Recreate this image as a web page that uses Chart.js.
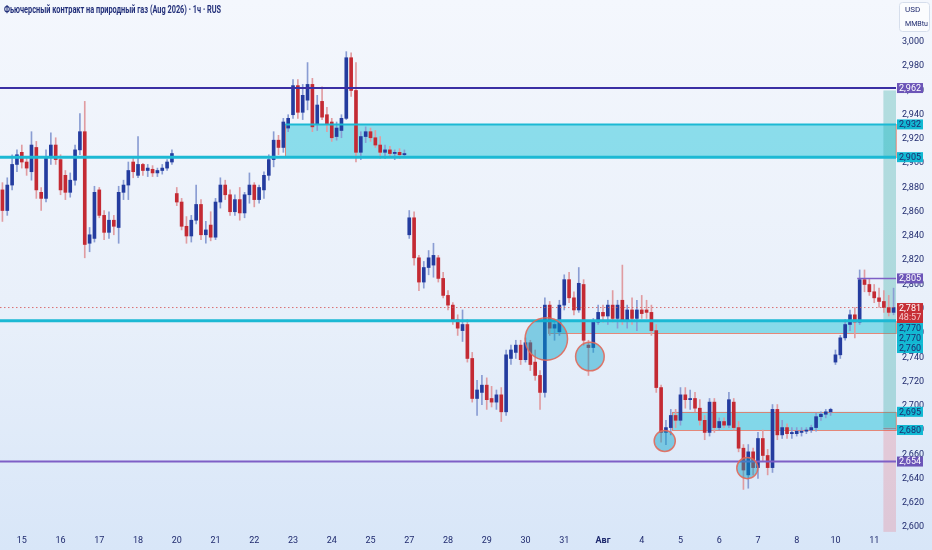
<!DOCTYPE html>
<html>
<head>
<meta charset="utf-8">
<script src="https://cdn.jsdelivr.net/npm/chart.js@4.4.1/dist/chart.umd.min.js"></script>
<style>
  html, body { margin: 0; padding: 0; }
  body {
    width: 932px; height: 550px; overflow: hidden;
    background: linear-gradient(#f4f7fd 0%, #e9f0fa 55%, #d8e6f8 100%);
  }
  canvas { display: block; }
</style>
</head>
<body>
<canvas id="gasChart" width="932" height="550"></canvas>
<script>
// 3-hour candles, Jul 15 -> Aug 11
const opens = [
  2878, 2861, 2882, 2899, 2909, 2901, 2893, 2913, 2876, 2871,
  2905, 2915, 2903, 2890, 2876, 2886, 2911, 2926, 2834, 2838,
  2878, 2857, 2843, 2853, 2847, 2876, 2882, 2901, 2890, 2899,
  2894, 2895, 2892, 2894, 2896, 2901, 2875, 2868, 2848, 2840,
  2853, 2866, 2841, 2849, 2839, 2868, 2882, 2874, 2860, 2870,
  2859, 2874, 2882, 2870, 2878, 2890, 2903, 2919, 2913, 2929,
  2940, 2964, 2942, 2952, 2965, 2932, 2951, 2940, 2934, 2922,
  2927, 2937, 2987, 2960, 2909, 2922, 2926, 2921, 2915, 2909,
  2911, 2908, 2909, 2907, 2841, 2855, 2822, 2802, 2814, 2816,
  2822, 2805, 2791, 2783, 2771, 2762, 2767, 2739, 2706, 2711,
  2717, 2706, 2703, 2709, 2695, 2739, 2744, 2750, 2738, 2752,
  2736, 2725, 2711, 2783, 2764, 2761, 2783, 2804, 2789, 2779,
  2800, 2750, 2748, 2769, 2777, 2774, 2783, 2772, 2787, 2771,
  2779, 2772, 2779, 2779, 2777, 2762, 2715, 2678, 2682, 2692,
  2688, 2709, 2705, 2706, 2698, 2688, 2678, 2703, 2682, 2687,
  2684, 2703, 2682, 2665, 2643, 2662, 2649, 2673, 2659, 2649,
  2697, 2676, 2682, 2677, 2677, 2678, 2679, 2680, 2682, 2691,
  2693, 2695, 2736, 2742, 2756, 2767, 2775, 2769, 2804, 2800,
  2794, 2789, 2786, 2781, 2777
];
const highs = [
  2884, 2888, 2907, 2911, 2915, 2904, 2926, 2918, 2880, 2911,
  2925, 2921, 2907, 2894, 2892, 2915, 2941, 2951, 2847, 2881,
  2880, 2861, 2860, 2857, 2881, 2886, 2901, 2904, 2922, 2900,
  2899, 2898, 2896, 2899, 2903, 2911, 2880, 2871, 2856, 2857,
  2882, 2870, 2852, 2860, 2871, 2888, 2886, 2878, 2874, 2880,
  2876, 2892, 2884, 2882, 2893, 2907, 2926, 2923, 2937, 2940,
  2969, 2969, 2965, 2983, 2970, 2956, 2963, 2946, 2937, 2934,
  2940, 2992, 2991, 2983, 2926, 2930, 2929, 2927, 2922, 2915,
  2914, 2911, 2912, 2911, 2861, 2860, 2824, 2819, 2828, 2834,
  2824, 2810, 2795, 2785, 2775, 2779, 2771, 2744, 2721, 2725,
  2723, 2716, 2713, 2715, 2746, 2750, 2754, 2754, 2756, 2754,
  2746, 2729, 2789, 2786, 2771, 2787, 2808, 2810, 2794, 2814,
  2804, 2754, 2772, 2783, 2783, 2787, 2795, 2787, 2816, 2783,
  2789, 2787, 2791, 2787, 2783, 2767, 2717, 2688, 2697, 2697,
  2715, 2715, 2713, 2711, 2705, 2692, 2706, 2706, 2690, 2690,
  2711, 2706, 2687, 2668, 2668, 2665, 2678, 2680, 2664, 2701,
  2701, 2688, 2685, 2682, 2682, 2682, 2682, 2684, 2694, 2695,
  2697, 2698, 2746, 2758, 2771, 2779, 2781, 2812, 2812, 2805,
  2800, 2797, 2795, 2791, 2797
];
const lows = [
  2852, 2857, 2878, 2893, 2896, 2890, 2886, 2871, 2861, 2868,
  2899, 2899, 2874, 2870, 2872, 2882, 2907, 2822, 2827, 2835,
  2855, 2837, 2838, 2841, 2834, 2870, 2870, 2888, 2888, 2890,
  2889, 2889, 2889, 2891, 2894, 2899, 2865, 2845, 2834, 2835,
  2850, 2837, 2834, 2836, 2837, 2863, 2870, 2857, 2857, 2853,
  2855, 2867, 2864, 2867, 2871, 2886, 2897, 2907, 2909, 2926,
  2937, 2937, 2936, 2944, 2926, 2927, 2936, 2926, 2918, 2919,
  2921, 2936, 2955, 2901, 2903, 2917, 2918, 2913, 2904, 2904,
  2905, 2903, 2904, 2905, 2838, 2816, 2795, 2797, 2808, 2806,
  2802, 2789, 2779, 2767, 2758, 2753, 2736, 2703, 2692, 2701,
  2697, 2699, 2697, 2687, 2692, 2734, 2739, 2734, 2736, 2729,
  2721, 2697, 2707, 2758, 2754, 2758, 2779, 2785, 2775, 2777,
  2750, 2725, 2744, 2767, 2769, 2767, 2769, 2764, 2767, 2764,
  2767, 2762, 2772, 2772, 2758, 2711, 2670, 2668, 2676, 2682,
  2684, 2698, 2697, 2695, 2684, 2672, 2675, 2678, 2680, 2682,
  2682, 2680, 2662, 2631, 2632, 2643, 2640, 2654, 2643, 2645,
  2672, 2673, 2673, 2673, 2675, 2675, 2677, 2678, 2679, 2688,
  2690, 2692, 2734, 2739, 2754, 2762, 2756, 2767, 2794, 2791,
  2785, 2781, 2777, 2774, 2775
];
const closes = [
  2861, 2882, 2899, 2907, 2901, 2896, 2915, 2878, 2871, 2905,
  2915, 2903, 2878, 2876, 2886, 2911, 2926, 2833, 2841, 2876,
  2857, 2843, 2853, 2848, 2876, 2882, 2894, 2893, 2899, 2894,
  2896, 2892, 2894, 2896, 2901, 2908, 2868, 2848, 2840, 2853,
  2866, 2841, 2845, 2839, 2868, 2882, 2874, 2860, 2870, 2859,
  2874, 2882, 2870, 2880, 2890, 2903, 2919, 2913, 2934, 2937,
  2964, 2942, 2956, 2965, 2930, 2948, 2938, 2932, 2921, 2929,
  2937, 2987, 2960, 2909, 2922, 2926, 2921, 2915, 2909, 2911,
  2908, 2909, 2907, 2908, 2855, 2822, 2802, 2814, 2822, 2824,
  2805, 2791, 2783, 2771, 2764, 2767, 2739, 2706, 2713, 2717,
  2705, 2703, 2709, 2695, 2742, 2746, 2750, 2738, 2752, 2734,
  2725, 2711, 2783, 2764, 2767, 2783, 2804, 2789, 2779, 2801,
  2754, 2748, 2769, 2777, 2774, 2783, 2772, 2783, 2771, 2779,
  2772, 2779, 2776, 2777, 2762, 2715, 2678, 2682, 2692, 2688,
  2709, 2705, 2706, 2698, 2688, 2678, 2703, 2682, 2687, 2684,
  2705, 2682, 2665, 2647, 2662, 2649, 2673, 2659, 2649, 2697,
  2676, 2682, 2677, 2678, 2679, 2679, 2680, 2682, 2691, 2693,
  2695, 2697, 2742, 2756, 2767, 2775, 2769, 2804, 2800, 2794,
  2789, 2786, 2781, 2777, 2781
];

// day labels on the time axis and the candle where each day starts
const dayLabels = ['15', '16', '17', '18', '20', '21', '22', '23', '24', '25', '27', '28',
  '29', '30', '31', 'Авг', '4', '5', '6', '7', '8', '10', '11'];
const dayStarts = [4, 12, 20, 28, 36, 44, 52, 60, 68, 76, 84, 92,
  100, 108, 116, 124, 132, 140, 148, 156, 164, 172, 180];

const priceTicks = [2600, 2620, 2640, 2660, 2680, 2700, 2720, 2740, 2760, 2780, 2800,
  2820, 2840, 2860, 2880, 2900, 2920, 2940, 2960, 2980, 3000];

// drawn levels
const fullLines = [2962, 2905, 2770, 2654];
const shortLine = { price: 2805, from: 176.5 };
const zoneTop = [2932, 2770, 2695];
const zoneBottom = [2905, 2760, 2680];
const zoneFrom = [58.4, 112.7, 138.3];
const circleAt = [112.3, 121.3, 136.75, 153.8];
const circlePrice = [2755, 2740.6, 2671, 2648.6];
const circleRadius = [17.5, 11.8, 8.7, 8.7]; // in price units
const position = { from: 181.9, target: 2960, entry: 2682, stop: 2596 };
const lastPrice = 2781;
const countdown = '48:57';

// axis-side price badges
const badgePrices = [2962, 2932, 2905, 2805, 2781, 2770, 2770, 2760, 2695, 2680, 2654];
const badgeTypes = ['line', 'zone', 'zone', 'line', 'last', 'zone', 'zone', 'zone', 'zone', 'zone', 'line'];

const title = 'Фьючерсный контракт на природный газ (Aug 2026) · 1ч · RUS';

const slots = opens.map((_, i) => String(i));
const bodies = opens.map((o, i) => [o, closes[i]]);
const wicks = lows.map((l, i) => [l, highs[i]]);
const bodyColors = opens.map((o, i) => closes[i] >= o ? '#243c9f' : '#c42a33');
const wickColors = opens.map((o, i) => closes[i] >= o ? '#8a9dd3' : '#e09ca1');

const dayAt = {};
dayStarts.forEach((s, i) => { dayAt[s] = dayLabels[i]; });

const fmt = v => v.toLocaleString('en-US');
const NAVY = '#1f2a6e';

Chart.defaults.font.family = 'Roboto, "Noto Sans", sans-serif';

const overlays = {
  id: 'overlays',
  beforeDatasetsDraw(chart) {
    const { ctx, chartArea: a, scales: { x, y } } = chart;
    ctx.save();
    // zones
    zoneTop.forEach((top, i) => {
      const x0 = x.getPixelForValue(zoneFrom[i]);
      const y0 = y.getPixelForValue(top);
      const y1 = y.getPixelForValue(zoneBottom[i]);
      ctx.fillStyle = 'rgba(0, 188, 212, 0.42)';
      ctx.fillRect(x0, y0, a.right - x0, y1 - y0);
      ctx.strokeStyle = 'rgba(228, 118, 98, 0.85)';
      ctx.lineWidth = 1;
      ctx.strokeRect(Math.round(x0) + 0.5, Math.round(y0) + 0.5, a.right - x0, Math.round(y1 - y0));
    });
    // long position tool at the right edge
    const px = x.getPixelForValue(position.from);
    const yT = y.getPixelForValue(position.target);
    const yE = y.getPixelForValue(position.entry);
    const yS = y.getPixelForValue(position.stop);
    ctx.fillStyle = 'rgba(38, 166, 154, 0.3)';
    ctx.fillRect(px, yT, a.right - px, yE - yT);
    ctx.fillStyle = 'rgba(242, 54, 69, 0.18)';
    ctx.fillRect(px, yE, a.right - px, yS - yE);
    ctx.strokeStyle = '#8a8f9c';
    ctx.lineWidth = 1;
    ctx.beginPath();
    ctx.moveTo(px, Math.round(yE) + 0.5);
    ctx.lineTo(a.right, Math.round(yE) + 0.5);
    ctx.stroke();
    ctx.restore();
  },
  afterDatasetsDraw(chart) {
    const { ctx, chartArea: a, scales: { x, y } } = chart;
    ctx.save();
    const hline = (price, x0, color, width) => {
      const yy = y.getPixelForValue(price);
      ctx.strokeStyle = color;
      ctx.lineWidth = width;
      ctx.beginPath();
      ctx.moveTo(x0, yy);
      ctx.lineTo(a.right, yy);
      ctx.stroke();
    };
    // current price dotted line
    ctx.setLineDash([1.5, 2.5]);
    hline(lastPrice, a.left, 'rgba(214, 80, 80, 0.8)', 1);
    ctx.setLineDash([]);
    // zone top line of the upper box
    hline(zoneTop[0], x.getPixelForValue(zoneFrom[0]), '#1cb9d4', 2);
    // full width levels
    hline(fullLines[0], a.left, '#3a2fa4', 2);
    hline(fullLines[1], a.left, '#1cb9d4', 3);
    hline(fullLines[2], a.left, '#1cb9d4', 3);
    hline(fullLines[3], a.left, '#7e5fc6', 2);
    hline(shortLine.price, x.getPixelForValue(shortLine.from), '#7e5fc6', 1.5);
    // circles
    circleAt.forEach((cx, i) => {
      const px = x.getPixelForValue(cx);
      const py = y.getPixelForValue(circlePrice[i]);
      const r = y.getPixelForValue(circlePrice[i] - circleRadius[i]) - py;
      ctx.beginPath();
      ctx.arc(px, py, r, 0, Math.PI * 2);
      ctx.fillStyle = 'rgba(0, 160, 200, 0.45)';
      ctx.fill();
      ctx.strokeStyle = 'rgba(225, 105, 90, 0.9)';
      ctx.lineWidth = 1.5;
      ctx.stroke();
    });
    ctx.restore();
  },
  afterDraw(chart) {
    const { ctx, chartArea: a, scales: { y } } = chart;
    ctx.save();
    // price badges on the axis, pushed down when they overlap
    const bx = a.right + 1;
    const bw = 26;
    let prevBottom = -Infinity;
    badgePrices.forEach((p, i) => {
      const type = badgeTypes[i];
      const h = type === 'last' ? 20 : 10;
      const natural = y.getPixelForValue(p) - (type === 'last' ? 4.5 : 5);
      const top = Math.max(natural, prevBottom);
      prevBottom = top + h;
      ctx.fillStyle = type === 'last' ? '#c62f36' : type === 'line' ? '#6c55b8' : '#12b9d3';
      ctx.fillRect(bx, top, bw, h);
      ctx.font = '9px Roboto';
      ctx.textAlign = 'center';
      ctx.textBaseline = 'middle';
      ctx.fillStyle = type === 'zone' ? NAVY : '#ffffff';
      ctx.fillText(fmt(p), bx + bw / 2, top + 5.5, bw - 2);
      if (type === 'last') {
        ctx.fillStyle = '#f7c9cc';
        ctx.fillText(countdown, bx + bw / 2, top + 15, bw - 2);
      }
    });
    // unit box
    ctx.fillStyle = 'rgba(255, 255, 255, 0.65)';
    ctx.strokeStyle = '#d6deec';
    ctx.lineWidth = 1;
    ctx.beginPath();
    ctx.roundRect(899.5, 2.5, 30, 29, 3);
    ctx.fill();
    ctx.stroke();
    ctx.fillStyle = NAVY;
    ctx.textAlign = 'left';
    ctx.textBaseline = 'middle';
    ctx.font = '8px Roboto';
    ctx.fillText('USD', 905, 10);
    ctx.fillText('MMBtu', 905, 24, 23);
    // title
    ctx.fillStyle = '#23307a';
    ctx.font = 'bold 10px Roboto';
    ctx.fillText(title, 4, 10, 217);
    ctx.restore();
  }
};

new Chart(document.getElementById('gasChart'), {
  type: 'bar',
  data: {
    labels: slots,
    datasets: [{
      label: 'body',
      data: bodies,
      backgroundColor: bodyColors,
      barThickness: 3,
      minBarLength: 1,
      grouped: false,
      borderWidth: 0
    }, {
      label: 'wick',
      data: wicks,
      backgroundColor: wickColors,
      barThickness: 1,
      grouped: false,
      borderWidth: 0
    }]
  },
  options: {
    responsive: false,
    animation: false,
    layout: { padding: 0 },
    plugins: {
      legend: { display: false },
      tooltip: { enabled: false }
    },
    scales: {
      x: {
        grid: { display: false, drawTicks: false },
        border: { display: false },
        ticks: {
          autoSkip: false,
          maxRotation: 0,
          minRotation: 0,
          padding: 3,
          color: NAVY,
          font: (c) => ({ size: 9, weight: c.tick && c.tick.label === 'Авг' ? 'bold' : 'normal' }),
          callback: (value) => dayAt[value] !== undefined ? dayAt[value] : null
        },
        afterFit(scale) {
          scale.height = 18;
          scale.paddingLeft = 0;
          scale.paddingRight = 0;
        }
      },
      y: {
        position: 'right',
        min: 2595.9,
        max: 3034.6,
        grid: { display: false, drawTicks: false },
        border: { display: false },
        ticks: {
          padding: 6,
          crossAlign: 'near',
          color: NAVY,
          font: { size: 9 },
          callback: (v) => fmt(v)
        },
        afterBuildTicks(scale) {
          scale.ticks = priceTicks.map(v => ({ value: v }));
        },
        afterFit(scale) {
          scale.width = 36;
          scale.paddingTop = 0;
          scale.paddingBottom = 0;
        }
      }
    }
  },
  plugins: [overlays]
});
</script>
</body>
</html>
